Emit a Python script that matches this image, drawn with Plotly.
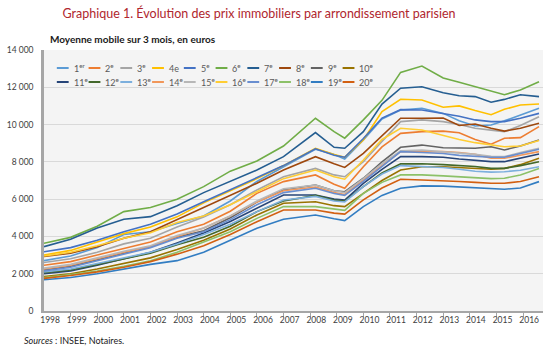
import plotly.graph_objects as go

# Observation dates (fractional years)
dates = [1998.0, 1999.0, 2000.0, 2001.0, 2002.0, 2003.0, 2004.0, 2005.0, 2006.0, 2007.0,
         2008.2, 2008.9, 2009.3, 2010.0, 2010.7, 2011.4, 2012.2, 2013.0, 2013.6, 2014.2,
         2014.8, 2015.3, 2015.9, 2016.6]

# Price per m² (euros, 3-month moving average) by arrondissement
p01 = [2700, 2950, 3400, 4100, 4250, 4700, 5100, 5900, 6950, 7750, 8680, 8400, 8150, 9170, 10300, 10780, 10875, 10600, 10200, 9925, 9980, 10200, 10515, 10875]
p02 = [2450, 2650, 3000, 3350, 3700, 4250, 4650, 5350, 6310, 6940, 7300, 6800, 6580, 7740, 8800, 9530, 9620, 9650, 9560, 9200, 8950, 9265, 9300, 9890]
p03 = [2600, 2800, 3150, 3600, 3900, 4500, 5040, 5700, 6490, 7200, 7650, 7300, 7200, 8010, 9100, 10160, 10250, 10160, 10000, 9800, 9700, 9620, 9950, 10420]
p04 = [3000, 3250, 3700, 4150, 4500, 5050, 5800, 6450, 7100, 7800, 8730, 8400, 8250, 9170, 10700, 11360, 11320, 10930, 11000, 10750, 10530, 10820, 11050, 11100]
p05 = [3180, 3400, 3800, 4250, 4650, 5200, 5860, 6500, 7150, 7800, 8700, 8350, 8250, 9250, 10350, 10800, 10780, 10600, 10450, 10250, 10160, 10160, 10340, 10600]
p06 = [3630, 3950, 4550, 5330, 5550, 6000, 6670, 7500, 8050, 8850, 10340, 9620, 9270, 10250, 11300, 12800, 13140, 12500, 12270, 12030, 11800, 11600, 11860, 12300]
p07 = [3450, 3850, 4450, 4920, 5060, 5650, 6350, 6950, 7560, 8280, 9570, 8780, 8730, 9620, 11100, 11950, 12030, 11710, 11550, 11500, 11200, 11350, 11600, 11500]
p08 = [2920, 3100, 3450, 3900, 4250, 4900, 5510, 6200, 6850, 7560, 8280, 7900, 7700, 8460, 9400, 10340, 10340, 10350, 9950, 10030, 9800, 9650, 9800, 10070]
p09 = [2200, 2400, 2750, 3100, 3450, 3950, 4300, 5000, 5850, 6500, 6760, 6450, 6400, 7120, 8000, 8780, 8900, 8760, 8760, 8730, 8810, 8640, 8850, 9170]
p10 = [1850, 2000, 2250, 2550, 2850, 3300, 3800, 4400, 5150, 5780, 5860, 5650, 5600, 6310, 7000, 7560, 7740, 7740, 7700, 7650, 7600, 7650, 7850, 8190]
p11 = [2000, 2150, 2450, 2800, 3150, 3650, 4180, 4800, 5500, 6220, 6220, 6000, 5950, 6850, 7600, 8280, 8280, 8250, 8150, 8100, 8010, 8010, 8200, 8420]
p12 = [2050, 2200, 2500, 2800, 3100, 3550, 3950, 4550, 5330, 5900, 6200, 5950, 5900, 6670, 7400, 7890, 7900, 7850, 7800, 7750, 7650, 7650, 7800, 8010]
p13 = [2100, 2250, 2550, 2850, 3150, 3600, 4100, 4650, 5330, 5950, 6150, 5900, 5850, 6670, 7350, 7800, 7750, 7700, 7600, 7500, 7450, 7470, 7550, 7740]
p14 = [2250, 2450, 2800, 3150, 3450, 4000, 4450, 5100, 5850, 6450, 6650, 6350, 6250, 7000, 7800, 8550, 8550, 8550, 8500, 8400, 8200, 8190, 8350, 8550]
p15 = [2300, 2500, 2850, 3200, 3500, 4050, 4450, 5100, 5900, 6550, 6760, 6450, 6350, 7100, 7900, 8600, 8640, 8550, 8450, 8400, 8300, 8280, 8500, 8730]
p16 = [2950, 3150, 3500, 3900, 4200, 4750, 5100, 5700, 6400, 7100, 7560, 7200, 7070, 8100, 9200, 9800, 9710, 9400, 9200, 9030, 8900, 8810, 8850, 9140]
p17 = [2150, 2350, 2700, 3050, 3400, 3900, 4250, 4900, 5700, 6350, 6580, 6300, 6200, 6950, 7750, 8550, 8500, 8450, 8350, 8300, 8250, 8250, 8450, 8680]
p18 = [1800, 1950, 2150, 2400, 2700, 3150, 3700, 4250, 4970, 5600, 5600, 5450, 5400, 6310, 6900, 7300, 7300, 7250, 7200, 7150, 7100, 7120, 7300, 7650]
p19 = [1680, 1800, 2000, 2250, 2500, 2700, 3150, 3800, 4440, 4920, 5150, 4950, 4850, 5600, 6200, 6580, 6710, 6700, 6650, 6600, 6550, 6530, 6600, 6940]
p20 = [1750, 1900, 2100, 2350, 2650, 3050, 3500, 4100, 4790, 5420, 5420, 5250, 5200, 5960, 6600, 7070, 7030, 7000, 6950, 6900, 6850, 6850, 6950, 7200]

series = [p01, p02, p03, p04, p05, p06, p07, p08, p09, p10,
          p11, p12, p13, p14, p15, p16, p17, p18, p19, p20]

names = ["1<sup>er</sup>", "2<sup>e</sup>", "3<sup>e</sup>", "4e", "5<sup>e</sup>",
         "6<sup>e</sup>", "7<sup>e</sup>", "8<sup>e</sup>", "9<sup>e</sup>", "10<sup>e</sup>",
         "11<sup>e</sup>", "12<sup>e</sup>", "13<sup>e</sup>", "14<sup>e</sup>", "15<sup>e</sup>",
         "16<sup>e</sup>", "17<sup>e</sup>", "18<sup>e</sup>", "19<sup>e</sup>", "20<sup>e</sup>"]

colors = ["#5B9BD5", "#ED7D31", "#A5A5A5", "#FFC000", "#4472C4",
          "#70AD47", "#255E91", "#9E480E", "#636363", "#997300",
          "#264478", "#43682B", "#7CAFDD", "#F1975A", "#B7B7B7",
          "#FFCD33", "#698ED0", "#8CC168", "#327DC2", "#D26012"]

year_labels = [str(y) for y in range(1998, 2017)]
y_ticks = [0, 2000, 4000, 6000, 8000, 10000, 12000, 14000]
y_tick_text = ["0", "2 000", "4 000", "6 000", "8 000", "10 000", "12 000", "14 000"]

W, H = 550, 349
ML, MR, MT, MB = 37, 7, 50, 38
PW, PH = W - ML - MR, H - MT - MB

fig = go.Figure()
for vals, nm, col in zip(series, names, colors):
    fig.add_trace(go.Scatter(x=dates, y=vals, mode="lines", name=nm,
                             line=dict(color=col, width=1.6), showlegend=False))

# Hand-placed two-row legend inside the plot area
shapes = []
annots = []
for i, (nm, col) in enumerate(zip(names, colors)):
    row, c = divmod(i, 10)
    x0 = 50 + c * 32.2
    py = 68 + row * 14
    xp0 = (x0 - ML) / PW
    xp1 = (x0 + 12 - ML) / PW
    yp = (MT + PH - py) / PH
    shapes.append(dict(type="line", xref="paper", yref="paper", x0=xp0, x1=xp1, y0=yp, y1=yp,
                       line=dict(color=col, width=2)))
    annots.append(dict(xref="paper", yref="paper", x=(x0 + 15 - ML) / PW, y=yp,
                       xanchor="left", yanchor="middle", text=nm, showarrow=False,
                       font=dict(size=9, color="#595959", family="Lato")))

annots.append(dict(xref="paper", yref="paper", x=(41 - ML) / PW, y=(MT + PH - 39) / PH,
                   xanchor="left", yanchor="middle", showarrow=False,
                   text="<b>Moyenne mobile sur 3 mois, en euros</b>",
                   font=dict(size=10, color="#1a1a1a", family="Lato")))
annots.append(dict(xref="paper", yref="paper", x=(15 - ML) / PW, y=(MT + PH - 340) / PH,
                   xanchor="left", yanchor="middle", showarrow=False,
                   text="<i>Sources</i> : INSEE, Notaires.",
                   font=dict(size=9, color="#1a1a1a", family="Lato")))

fig.update_layout(
    width=W, height=H,
    margin=dict(l=ML, r=MR, t=MT, b=MB),
    paper_bgcolor="white", plot_bgcolor="#F4F4F4",
    title=dict(text="Graphique 1. Évolution des prix immobiliers par arrondissement parisien",
               x=259 / W, xanchor="center", y=1 - 14 / H, yanchor="middle",
               font=dict(size=12.5, color="#B0262E", family="Lato")),
    shapes=shapes, annotations=annots,
    showlegend=False,
)

fig.update_xaxes(
    range=[1998, 2016.75],
    tickvals=[int(y) + 0.23 for y in year_labels], ticktext=year_labels,
    ticks="", showgrid=False, zeroline=False,
    showline=True, linecolor="#A6A6A6", linewidth=1.5,
    tickfont=dict(size=8.5, color="#404040", family="Lato"),
    minor=dict(tickvals=list(range(1999, 2017)), ticks="outside", ticklen=4,
               tickcolor="#A6A6A6", tickwidth=1, showgrid=False),
)
fig.update_yaxes(
    range=[0, 14000],
    tickvals=y_ticks, ticktext=y_tick_text,
    showgrid=True, gridcolor="#D9D9D9", gridwidth=1, zeroline=False,
    showline=True, linecolor="#A6A6A6", linewidth=2.5,
    ticks="", ticklabelstandoff=6,
    tickfont=dict(size=8.5, color="#404040", family="Lato"),
)

fig.write_html("out.html")
